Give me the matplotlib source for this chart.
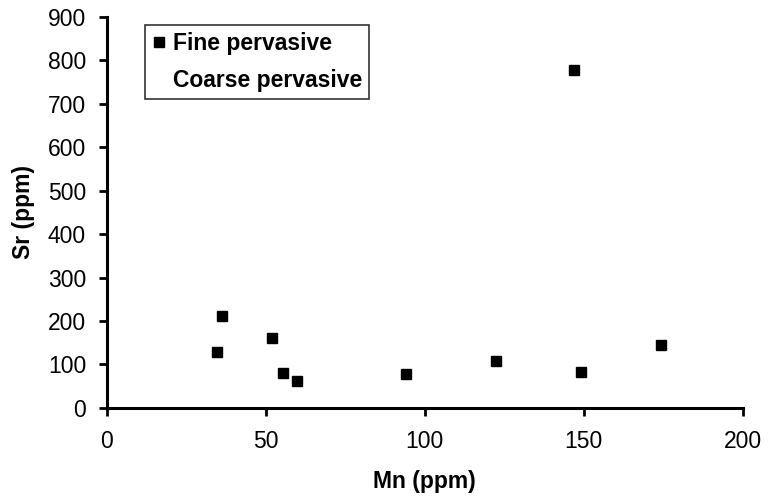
import matplotlib.pyplot as plt

# Fine pervasive samples
mn_fine = [34.5, 36.3, 52, 55.4, 59.8, 94, 122.5, 147, 149, 174.4]
sr_fine = [128, 211, 161, 81, 61, 79, 107, 778, 82, 144]

# Coarse pervasive (no points visible in the plot)
mn_coarse = []
sr_coarse = []

x_ticks = [0, 50, 100, 150, 200]
y_ticks = [0, 100, 200, 300, 400, 500, 600, 700, 800, 900]

plt.rcParams['font.family'] = ['Liberation Sans', 'DejaVu Sans']

fig = plt.figure(figsize=(7.69, 4.98), dpi=100)
ax = fig.add_axes([0.139, 0.181, 0.827, 0.785])

ax.plot(mn_fine, sr_fine, 's', color='black', markersize=6.5, label='Fine pervasive')
ax.plot(mn_coarse, sr_coarse, 's', color='white', markersize=0, label='Coarse pervasive')

ax.set_xlim(0, 200)
ax.set_ylim(0, 900)
ax.set_xticks(x_ticks)
ax.set_yticks(y_ticks)
ax.tick_params(labelsize=16.5, width=2, length=6, direction='out')
ax.tick_params(axis='y', pad=9)
ax.tick_params(axis='x', pad=10)
ax.spines['top'].set_visible(False)
ax.spines['right'].set_visible(False)
ax.spines['left'].set_linewidth(2.2)
ax.spines['bottom'].set_linewidth(2.2)

ax.set_xlabel('Mn (ppm)', fontsize=16.5, fontweight='bold', labelpad=12)
ax.set_ylabel('Sr (ppm)', fontsize=16.5, fontweight='bold', labelpad=9)

leg = ax.legend(loc='upper left', bbox_to_anchor=(0.06, 0.98), borderaxespad=0,
                frameon=True, fancybox=False, edgecolor='black',
                handlelength=0.6, handletextpad=0.3, prop={'size': 16.5, 'weight': 'bold'},
                borderpad=0.3, labelspacing=0.63)
leg.get_frame().set_linewidth(1.2)

fig.savefig('out.png', dpi=100)
